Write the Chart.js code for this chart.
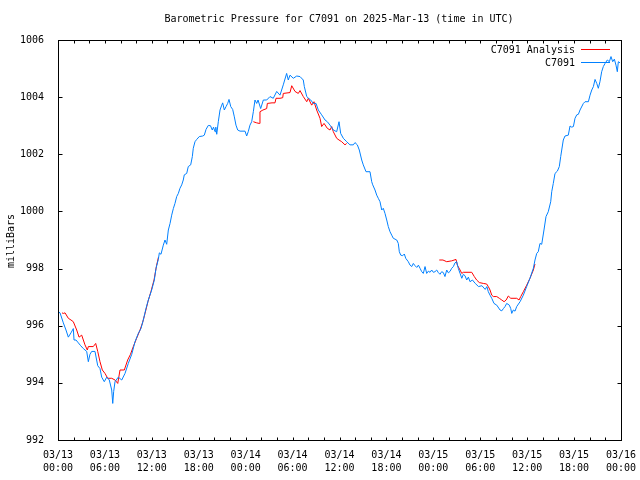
<!DOCTYPE html>
<html>
<head>
<meta charset="utf-8">
<script src="https://cdn.jsdelivr.net/npm/chart.js@4.4.1/dist/chart.umd.min.js"></script>
<style>
html,body{margin:0;padding:0;background:#fff;}
#wrap{width:640px;height:480px;}
</style>
</head>
<body>
<div id="wrap"><canvas id="c" width="640" height="480"></canvas></div>
<script>
// ---- data (hours since 2025-03-13 00:00 UTC) ----
const stationName = 'C7091';
const titleText = 'Barometric Pressure for C7091 on 2025-Mar-13 (time in UTC)';
const yAxisTitle = 'milliBars';

const obsHours = [0.0,0.26,0.68,1.02,1.32,1.66,1.96,2.05,2.30,2.60,2.90,3.24,3.67,3.88,4.09,4.31,4.73,5.08,5.37,5.59,5.92,6.23,6.56,6.87,7.00,7.12,7.29,7.71,8.15,8.57,8.99,9.43,9.85,10.27,10.61,10.91,11.25,11.55,11.98,12.32,12.53,12.83,12.96,13.17,13.47,13.68,13.90,14.11,14.33,14.54,14.75,14.96,15.18,15.39,15.60,15.82,16.02,16.15,16.46,16.66,16.97,17.18,17.30,17.52,17.74,18.07,18.51,18.71,18.93,19.22,19.50,19.73,19.89,20.08,20.18,20.30,20.50,20.72,20.94,21.06,21.27,21.49,21.70,21.87,22.09,22.34,22.55,22.76,22.98,23.28,23.92,24.13,24.34,24.55,24.77,24.98,25.19,25.41,25.58,25.92,26.26,26.69,27.11,27.53,27.97,28.39,28.81,29.24,29.45,29.67,30.09,30.53,30.95,31.37,31.50,31.81,32.04,32.32,32.65,33.00,33.29,33.72,34.15,34.44,34.79,35.21,35.64,35.94,36.15,36.49,36.92,37.34,37.77,37.98,38.28,38.53,38.84,39.04,39.39,39.90,40.12,40.25,40.54,40.76,40.96,41.18,41.40,41.60,41.82,42.04,42.24,42.46,42.68,42.88,43.32,43.52,43.65,43.83,44.08,44.29,44.47,44.80,45.02,45.24,45.44,45.66,45.88,46.09,46.30,46.52,46.72,46.94,47.15,47.36,47.58,47.79,48.00,48.21,48.43,48.64,48.85,49.07,49.28,49.49,49.71,49.92,50.13,50.35,50.56,50.77,50.99,51.20,51.42,51.64,51.84,52.05,52.27,52.48,52.69,53.00,53.36,53.78,54.21,54.63,54.85,55.03,55.25,55.47,55.76,56.11,56.53,56.75,56.96,57.17,57.38,57.72,57.90,58.03,58.23,58.45,58.66,59.09,59.51,59.94,60.36,60.79,61.00,61.22,61.42,61.64,61.86,62.15,62.41,62.70,63.01,63.14,63.34,63.56,63.86,64.11,64.29,64.42,64.62,64.84,65.26,65.48,65.70,65.91,66.12,66.34,66.55,66.76,67.19,67.40,67.83,68.04,68.26,68.47,68.68,68.90,69.10,69.31,69.53,69.74,69.96,70.25,70.51,70.72,70.94,71.15,71.36,71.53,71.66,71.88];
const obsPressure = [996.5,996.45,996.1,995.85,995.6,995.75,995.9,995.5,995.5,995.4,995.3,995.2,995.1,994.74,995.0,995.1,995.1,994.6,994.5,994.2,994.04,994.2,994.1,993.75,993.28,993.7,994.04,994.2,994.1,994.33,994.68,995.0,995.44,995.73,995.9,996.2,996.6,996.9,997.25,997.6,998.0,998.32,998.55,998.5,998.82,999.0,998.85,999.35,999.58,999.87,1000.1,1000.28,1000.52,1000.63,1000.81,1000.93,1001.1,1001.28,1001.33,1001.57,1001.63,1001.92,1002.21,1002.44,1002.52,1002.62,1002.64,1002.67,1002.87,1003.01,1003.0,1002.85,1002.95,1002.79,1002.95,1002.7,1003.14,1003.55,1003.72,1003.8,1003.55,1003.67,1003.78,1003.92,1003.67,1003.57,1003.31,1003.02,1002.85,1002.81,1002.81,1002.64,1002.8,1003.02,1003.14,1003.49,1003.9,1003.78,1003.9,1003.6,1003.9,1003.9,1004.02,1003.96,1004.2,1004.07,1004.43,1004.83,1004.6,1004.77,1004.66,1004.74,1004.72,1004.6,1004.37,1004.02,1003.96,1003.9,1003.78,1003.78,1003.55,1003.38,1003.2,1003.14,1003.02,1002.85,1002.79,1003.14,1002.73,1002.56,1002.44,1002.33,1002.33,1002.41,1002.33,1002.15,1001.8,1001.63,1001.39,1001.39,1001.04,1000.93,1000.75,1000.57,1000.46,1000.34,1000.05,1000.11,999.93,999.7,999.47,999.29,999.17,999.06,999.0,998.88,998.59,998.47,998.45,998.51,998.36,998.24,998.12,998.07,998.18,998.1,998.04,998.12,998.01,997.89,997.83,998.07,997.83,997.91,997.87,997.95,997.87,997.89,997.95,997.86,997.8,997.89,997.86,997.72,997.95,997.85,997.9,998.01,998.07,998.2,998.24,998.0,997.83,997.66,997.8,997.75,997.6,997.7,997.54,997.6,997.48,997.37,997.4,997.27,997.37,997.19,997.07,996.96,996.78,996.72,996.55,996.52,996.6,996.67,996.78,996.72,996.6,996.43,996.55,996.51,996.67,996.84,997.07,997.37,997.66,998.01,998.3,998.53,998.59,998.88,998.85,999.35,999.82,999.99,1000.34,1000.69,1000.98,1001.33,1001.41,1001.57,1001.92,1002.15,1002.5,1002.64,1002.67,1002.99,1002.95,1002.97,1003.26,1003.38,1003.4,1003.55,1003.78,1003.84,1003.84,1004.07,1004.25,1004.37,1004.62,1004.48,1004.31,1004.54,1004.89,1005.07,1005.18,1005.3,1005.24,1005.42,1005.24,1005.33,1005.12,1004.89,1005.24,1005.2];

// analysis series; null marks a gap
const anaHours = [0.51,0.68,0.90,1.32,1.66,1.96,2.39,2.69,3.03,3.45,3.75,3.88,4.51,4.82,5.08,5.37,5.67,6.01,6.36,6.87,7.29,7.64,7.93,8.48,8.91,9.27,9.63,10.04,10.49,10.81,11.13,11.51,11.89,12.28,12.60,12.85,
  18.0,
  24.98,25.41,25.74,25.83,26.21,26.69,26.77,27.37,27.75,27.88,28.39,28.74,28.81,29.67,29.89,30.31,30.73,30.95,31.37,31.81,32.01,32.44,32.74,33.08,33.51,33.72,34.02,34.44,34.79,35.00,35.21,35.64,35.94,36.28,36.70,36.92,
  43.0,
  48.76,49.23,49.71,50.35,50.90,51.07,51.42,51.64,51.84,52.91,53.24,53.54,53.88,54.39,54.82,55.03,55.25,55.47,55.68,56.11,56.44,56.75,57.05,57.31,57.59,57.90,58.66,58.96,59.18,59.51,59.94,60.36,60.79,61.00];
const anaPressure = [996.45,996.43,996.45,996.26,996.2,996.14,995.85,995.6,995.67,995.33,995.15,995.27,995.27,995.38,995.1,994.74,994.45,994.33,994.16,994.16,994.1,993.98,994.45,994.45,994.8,995.0,995.27,995.55,995.85,996.1,996.43,996.85,997.2,997.6,998.1,998.4,
  null,
  1003.14,1003.1,1003.08,1003.49,1003.55,1003.6,1003.78,1003.8,1003.8,1003.96,1003.96,1003.98,1004.13,1004.16,1004.4,1004.2,1004.13,1004.23,1004.02,1003.84,1003.96,1003.72,1003.84,1003.55,1003.26,1002.97,1003.08,1002.91,1002.85,1002.97,1002.79,1002.56,1002.5,1002.44,1002.33,1002.38,
  null,
  998.3,998.3,998.24,998.27,998.32,998.12,997.95,997.83,997.87,997.87,997.72,997.6,997.51,997.48,997.46,997.37,997.25,997.07,997.02,997.02,996.96,996.9,996.84,996.9,997.04,996.96,996.96,996.9,997.02,997.19,997.42,997.66,997.95,998.16];

const tickDays  = ['03/13','03/13','03/13','03/13','03/14','03/14','03/14','03/14','03/15','03/15','03/15','03/15','03/16'];
const tickTimes = ['00:00','06:00','12:00','18:00','00:00','06:00','12:00','18:00','00:00','06:00','12:00','18:00','00:00'];
const yTicks = [992,994,996,998,1000,1002,1004,1006];

const seriesNames = ['C7091 Analysis','C7091'];
const seriesColors = ['#ff0000','#0080ff'];

const FONT = '"DejaVu Sans Mono", "Liberation Mono", monospace';

const framePlugin = {
  id: 'frame',
  afterDraw(chart) {
    const {ctx, chartArea: a, scales} = chart;
    ctx.save();
    ctx.strokeStyle = '#000';
    ctx.lineWidth = 1;
    const L = Math.round(a.left) + 0.5, R = Math.round(a.right) + 0.5;
    const T = Math.round(a.top) + 0.5, B = Math.round(a.bottom) + 0.5;
    ctx.beginPath();
    scales.x.ticks.forEach(t => {
      const px = Math.round(scales.x.getPixelForValue(t.value)) + 0.5;
      ctx.moveTo(px, B); ctx.lineTo(px, B - 3);
      ctx.moveTo(px, T); ctx.lineTo(px, T + 3);
    });
    scales.y.ticks.forEach(t => {
      const py = Math.round(scales.y.getPixelForValue(t.value)) + 0.5;
      ctx.moveTo(L, py); ctx.lineTo(L + 4, py);
      ctx.moveTo(R, py); ctx.lineTo(R - 4, py);
    });
    ctx.stroke();
    ctx.strokeRect(L, T, R - L, B - T);

    ctx.fillStyle = '#000';
    ctx.font = '10px ' + FONT;
    ctx.textAlign = 'center';
    ctx.textBaseline = 'middle';
    ctx.fillText(titleText, 339, 19);

    ctx.save();
    ctx.translate(11, 241);
    ctx.rotate(-Math.PI / 2);
    ctx.fillText(yAxisTitle, 0, 0);
    ctx.restore();

    ctx.textAlign = 'right';
    const ly = [50, 63];
    seriesNames.forEach((n, i) => {
      ctx.fillStyle = '#000';
      ctx.fillText(n, 575, ly[i]);
      ctx.strokeStyle = seriesColors[i];
      ctx.beginPath();
      ctx.moveTo(581, ly[i] - 0.5);
      ctx.lineTo(610, ly[i] - 0.5);
      ctx.stroke();
    });
    ctx.restore();
  }
};

new Chart(document.getElementById('c'), {
  type: 'line',
  data: {
    datasets: [
      {
        label: seriesNames[1],
        data: obsHours.map((h, i) => ({x: h, y: obsPressure[i]})),
        borderColor: seriesColors[1],
        borderWidth: 1,
        pointRadius: 0,
        tension: 0,
        order: 0
      },
      {
        label: seriesNames[0],
        data: anaHours.map((h, i) => ({x: h, y: anaPressure[i]})),
        borderColor: seriesColors[0],
        borderWidth: 1,
        pointRadius: 0,
        tension: 0,
        spanGaps: false,
        order: 1
      }
    ]
  },
  options: {
    responsive: false,
    animation: false,
    devicePixelRatio: 1,
    layout: {padding: {left: 0, right: 19, top: 40, bottom: 0}},
    plugins: {legend: {display: false}, tooltip: {enabled: false}, title: {display: false}},
    events: [],
    scales: {
      x: {
        type: 'linear',
        min: 0, max: 72,
        grid: {display: false},
        border: {display: false},
        afterFit(s) { s.height = 40; s.paddingLeft = 0; s.paddingRight = 0; },
        ticks: {
          stepSize: 2,
          autoSkip: false,
          maxRotation: 0,
          minRotation: 0,
          padding: 1,
          color: '#000',
          font: {family: FONT, size: 10, lineHeight: 1.3},
          callback(v) {
            if (v % 6 !== 0) return '';
            const i = v / 6;
            return [tickDays[i], tickTimes[i]];
          }
        }
      },
      y: {
        type: 'linear',
        min: yTicks[0], max: yTicks[yTicks.length - 1],
        grid: {display: false},
        border: {display: false},
        afterFit(s) { s.width = 58; s.paddingTop = 0; s.paddingBottom = 0; },
        afterBuildTicks(s) { s.ticks = yTicks.map(v => ({value: v})); },
        ticks: {
          padding: 6,
          color: '#000',
          font: {family: FONT, size: 10},
          callback(v) { return String(v); }
        }
      }
    }
  },
  plugins: [framePlugin]
});
</script>
</body>
</html>
